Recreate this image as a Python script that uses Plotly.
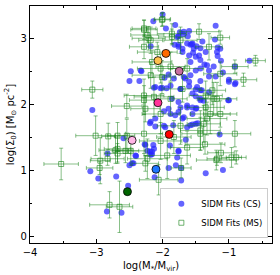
import plotly.graph_objects as go

# SIDM Fits (CS): blue dots
cs_x = [-3.06, -2.50, -2.48, -2.59, -2.83, -2.40, -2.50, -2.44, -3.09, -2.97, -2.70, -2.52, -2.84, -2.62,
        -2.12, -1.91, -1.80, -1.72, -1.72, -1.35, -1.09, -1.14,
        -2.27, -2.16, -2.18, -2.13, -2.23, -1.76, -1.65,
        -2.18, -2.11, -1.96, -1.84, -1.58, -1.50,
        -2.11, -2.03, -1.94, -2.33,
        -2.00, -2.14, -1.95, -1.81, -1.20, -1.68, -1.60, -1.74, -1.78, -1.21, -2.18, -0.69, -0.91, -1.00, -1.00, -0.91, -1.00,
        -2.32, -2.35, -1.97, -1.66, -1.58, -1.76, -1.70, -1.58,
        -1.40, -1.55, -1.49, -1.43, -1.35, -1.54, -1.45, -1.17, -1.17, -1.12, -1.37, -1.23, -1.50, -1.30, -1.09, -1.20, -1.30, -0.90, -1.43,
        -1.63, -1.56, -1.53, -1.82, -1.76, -1.70, -1.60, -1.50, -1.43, -1.58, -1.33, -1.43, -1.18, -1.13,
        -1.83, -1.91, -1.68, -1.60, -1.48, -1.41, -1.73, -1.86, -1.76, -1.63, -1.50, -1.43, -1.30, -1.68, -1.55, -1.88,
        -2.13, -2.01, -1.88, -1.73, -1.60, -1.73, -1.63, -1.81, -1.76, -1.98, -1.91, -2.19, -2.11, -1.98, -1.70, -1.63,
        -2.14, -2.19, -2.16, -2.26, -1.76, -1.78, -2.41, -2.46, -1.89,
        -1.50, -1.43, -1.55, -1.50, -1.43, -1.38, -1.55, -1.49, -1.01, -1.47, -1.55,
        -1.69, -1.76, -1.62]
cs_y = [1.92, 2.36, 2.51, 1.49, 1.26, 1.22, 1.08, 1.11, 0.99, 0.88, 0.91, 0.77, 0.38, 0.36,
        0.90, 1.04, 1.08, 1.04, 0.85, 0.96, 1.01, 1.55,
        1.40, 1.29, 1.24, 1.33, 1.30, 1.29, 1.47,
        1.74, 1.79, 1.66, 1.69, 1.69, 1.71,
        2.27, 2.25, 2.25, 2.52,
        3.37, 3.27, 3.16, 3.21, 3.20, 3.11, 3.12, 3.10, 3.03, 2.99, 2.89, 2.67, 2.58, 2.38, 2.35, 2.31, 2.07,
        2.51, 2.36, 2.41, 2.40, 2.45, 2.91, 2.85, 2.91,
        2.96, 2.93, 2.89, 2.86, 2.80, 2.79, 2.75, 2.87, 2.74, 2.67, 2.61, 2.58, 2.52, 2.52, 2.49, 2.43, 2.43, 2.33, 2.36,
        2.93, 2.92, 2.85, 2.91, 2.88, 2.80, 2.75, 2.73, 2.68, 2.65, 2.60, 2.55, 2.80, 2.85,
        2.40, 2.46, 2.42, 2.35, 2.27, 2.22, 2.24, 2.09, 2.04, 1.99, 1.94, 2.09, 2.19, 1.81, 1.86, 1.86,
        2.26, 2.26, 2.29, 2.24, 2.28, 1.96, 1.96, 1.84, 1.89, 1.90, 1.94, 1.72, 1.67, 1.68, 1.79, 1.66,
        1.39, 1.29, 1.25, 1.39, 1.30, 1.20, 1.23, 1.11, 1.38,
        2.23, 2.22, 2.17, 2.13, 2.07, 2.06, 1.96, 1.95, 2.07, 1.72, 1.70,
        3.07, 3.04, 3.04]

# SIDM Fits (MS): green squares with error bars
ms_x = [-3.06, -2.54, -3.01, -2.82, -3.53, -2.95, -2.83, -2.80, -2.65, -2.06, -1.72, -1.18, -0.89, -2.26,
        -0.91, -1.36, -1.12, -1.19, -0.60, -2.00, -0.78, -1.13, -0.91, -2.94, -2.68, -2.71, -2.56, -2.68, -2.54,
        -2.01, -2.28, -2.23, -2.18, -2.28, -2.08, -1.86, -1.73, -2.16, -1.88, -2.18, -1.63, -2.01,
        -2.28, -2.21, -1.86, -1.45, -1.30, -2.03, -1.13, -2.28, -1.70, -1.35, -1.18, -2.26, -2.03, -1.33, -1.13, -1.73, -1.43,
        -2.28, -2.13, -1.88, -2.68, -2.28, -2.03, -1.83, -2.48, -2.23, -1.93, -1.63,
        -1.25, -1.23, -1.35, -1.38, -1.28, -1.43, -0.96]
ms_y = [2.23, 1.98, 1.53, 1.52, 1.10, 1.04, 1.18, 0.48, 0.45, 0.86, 1.04, 1.18, 1.20, 1.11,
        1.56, 1.40, 1.27, 1.16, 2.67, 3.30, 2.38, 3.02, 2.58, 1.15, 1.26, 1.31, 1.30, 1.53, 1.53,
        3.29, 3.14, 3.06, 2.98, 2.88, 2.80, 3.03, 2.98, 2.65, 2.58, 2.45, 2.55, 2.42,
        3.16, 3.01, 3.08, 3.11, 2.88, 2.55, 2.47, 2.14, 2.24, 2.14, 2.09, 1.94, 1.86, 1.79, 1.86, 1.68, 1.61,
        2.07, 2.12, 2.09, 1.33, 1.56, 1.45, 1.51, 1.30, 1.18, 1.23, 1.35,
        2.22, 2.09, 1.96, 1.71, 1.86, 1.56, 1.20]
ms_xerr = [0.16, 0.23, 0.30, 0.10, 0.26, 0.20, 0.25, 0.30, 0.20, 0.29, 0.15, 0.15, 0.15, 0.20,
           0.24, 0.30, 0.20, 0.30, 0.15, 0.12, 0.20, 0.14, 0.20, 0.15, 0.20, 0.25, 0.20, 0.15, 0.12,
           0.12, 0.20, 0.25, 0.18, 0.22, 0.30, 0.20, 0.25, 0.30, 0.22, 0.28, 0.25, 0.20,
           0.18, 0.25, 0.22, 0.30, 0.20, 0.35, 0.25, 0.30, 0.28, 0.25, 0.30, 0.22, 0.28, 0.30, 0.25, 0.35, 0.30,
           0.22, 0.30, 0.25, 0.20, 0.28, 0.32, 0.26, 0.22, 0.30, 0.35, 0.25,
           0.20, 0.22, 0.28, 0.25, 0.30, 0.28, 0.15]
ms_yerr = [0.13, 0.18, 0.30, 0.20, 0.24, 0.10, 0.10, 0.20, 0.39, 0.23, 0.15, 0.10, 0.10, 0.12,
           0.20, 0.15, 0.15, 0.15, 0.08, 0.10, 0.10, 0.10, 0.10, 0.35, 0.15, 0.20, 0.18, 0.20, 0.25,
           0.10, 0.15, 0.12, 0.20, 0.18, 0.15, 0.12, 0.20, 0.18, 0.22, 0.20, 0.15, 0.25,
           0.12, 0.18, 0.15, 0.12, 0.20, 0.22, 0.18, 0.25, 0.20, 0.22, 0.25, 0.20, 0.30, 0.25, 0.20, 0.28, 0.30,
           0.22, 0.30, 0.25, 0.20, 0.30, 0.28, 0.25, 0.22, 0.30, 0.35, 0.25,
           0.22, 0.25, 0.20, 0.28, 0.30, 0.25, 0.15]

# highlighted galaxies
hl_x = [-1.95, -2.07, -1.75, -2.07, -1.90, -2.10, -2.46, -2.53]
hl_y = [2.78, 2.67, 2.51, 2.03, 1.55, 1.02, 1.46, 0.68]
hl_colors = ["#ff6a00", "#ffc04d", "#c86ea0", "#ff3399", "#ff0000", "#1e78ff", "#ffb6e6", "#006400"]

fig = go.Figure()
fig.add_trace(go.Scatter(
    x=cs_x, y=cs_y, mode="markers", name="SIDM Fits (CS)",
    marker=dict(color="rgba(40,40,255,0.72)", size=6, line=dict(width=0)),
))
fig.add_trace(go.Scatter(
    x=ms_x, y=ms_y, mode="markers", name="SIDM Fits (MS)",
    marker=dict(symbol="square-open", color="rgba(20,130,20,0.6)", size=5, line=dict(width=1)),
    error_x=dict(type="data", array=ms_xerr, color="rgba(20,130,20,0.5)", thickness=1, width=2),
    error_y=dict(type="data", array=ms_yerr, color="rgba(20,130,20,0.5)", thickness=1, width=2),
))
fig.add_trace(go.Scatter(
    x=hl_x, y=hl_y, mode="markers", showlegend=False,
    marker=dict(color=hl_colors, size=8, line=dict(color="black", width=0.8)),
))

axis_common = dict(
    showline=True, linecolor="black", linewidth=1.2, mirror="allticks",
    ticks="inside", ticklen=4, tickcolor="black", showgrid=False, zeroline=False,
    automargin=False,
    tickfont=dict(family="DejaVu Sans", size=10, color="black"),
    minor=dict(ticks="inside", ticklen=2, tickcolor="black", dtick=0.5, showgrid=False),
)
fig.update_xaxes(range=[-4, -0.35], dtick=1, tick0=0,
                 title=dict(text="log(M<sub>*</sub>/M<sub>vir</sub>)", font=dict(family="DejaVu Sans", size=10, color="black"), standoff=4),
                 **axis_common)
fig.update_yaxes(range=[-0.1, 3.5], dtick=1, tick0=0,
                 title=dict(text="log(Σ<sub>0</sub>) [M<sub>⊙</sub> pc<sup>-2</sup>]", font=dict(family="DejaVu Sans", size=10, color="black"), standoff=4),
                 **axis_common)
fig.update_layout(
    width=280, height=275,
    margin=dict(l=30, r=8, t=6, b=32),
    plot_bgcolor="white", paper_bgcolor="white",
    legend=dict(x=0.985, y=0.02, xanchor="right", yanchor="bottom",
                bgcolor="rgba(255,255,255,0.85)", bordercolor="#cccccc", borderwidth=1,
                font=dict(family="DejaVu Sans", size=8.5, color="black"),
                tracegroupgap=0, itemwidth=30),
)
fig.write_html("out.html", config={"displayModeBar": False},
               post_script="document.body.style.margin='0px';document.body.style.overflow='hidden';")
